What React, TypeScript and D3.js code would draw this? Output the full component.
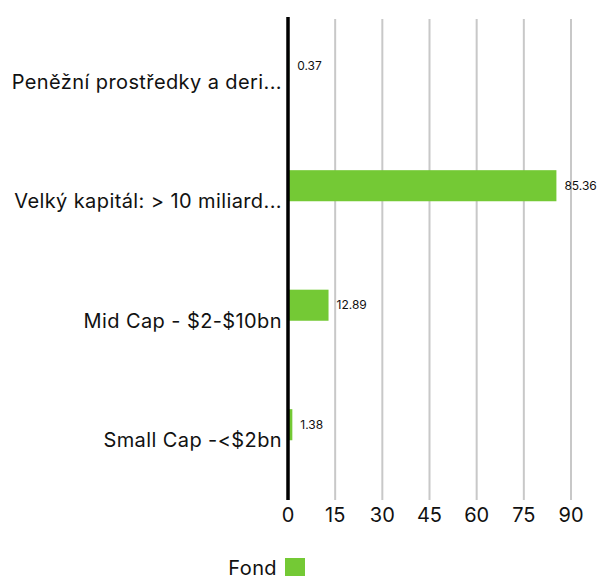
import React from "react";
import { scaleLinear, scaleBand } from "d3";

const categories = [
  "Peněžní prostředky a deri...",
  "Velký kapitál: > 10 miliard...",
  "Mid Cap - $2-$10bn",
  "Small Cap -<$2bn",
];
const fondValues = [0.37, 85.36, 12.89, 1.38];
const tickValues = [0, 15, 30, 45, 60, 75, 90];
const seriesName = "Fond";

const green = "#74c935";
const font = "Inter, 'Noto Sans', sans-serif";

export default function App() {
  const width = 602;
  const height = 576;

  const x = scaleLinear().domain([0, 90]).range([288, 571]);
  const y = scaleBand<string>().domain(categories).range([22, 500]).paddingInner(0).paddingOuter(0);
  const barH = y.bandwidth() * 0.26;

  return (
    <svg
      width={width}
      height={height}
      style={{ position: "absolute", left: 0, top: 0, fontFamily: font }}
    >
      {/* gridlines */}
      {tickValues.slice(1).map((t) => (
        <line key={t} x1={x(t)} x2={x(t)} y1={19} y2={500} stroke="#c8c8c8" strokeWidth={2} />
      ))}

      {/* bars */}
      {categories.map((c, i) => {
        const cy = (y(c) ?? 0) + y.bandwidth() / 2;
        const v = fondValues[i];
        return (
          <g key={c}>
            <rect x={x(0)} y={cy - barH} width={x(v) - x(0)} height={barH} fill={green} />
            <text x={x(v) + 8} y={cy - barH / 2} dy="0.35em" fontSize={12} fill="#111">
              {v.toFixed(2)}
            </text>
            <text
              x={282}
              y={cy}
              dy="0.35em"
              textAnchor="end"
              fontSize={20}
              letterSpacing={0.4}
              fill="#111"
            >
              {c}
            </text>
          </g>
        );
      })}

      {/* zero axis */}
      <line x1={x(0)} x2={x(0)} y1={17} y2={500} stroke="#000" strokeWidth={3.5} />

      {/* tick labels */}
      {tickValues.map((t) => (
        <text key={t} x={x(t)} y={522} textAnchor="middle" fontSize={20} fill="#111">
          {t}
        </text>
      ))}

      {/* legend */}
      <text x={277} y={575} textAnchor="end" fontSize={20} letterSpacing={0.4} fill="#111">
        {seriesName}
      </text>
      <rect x={285} y={558} width={20} height={20} fill={green} />
    </svg>
  );
}
